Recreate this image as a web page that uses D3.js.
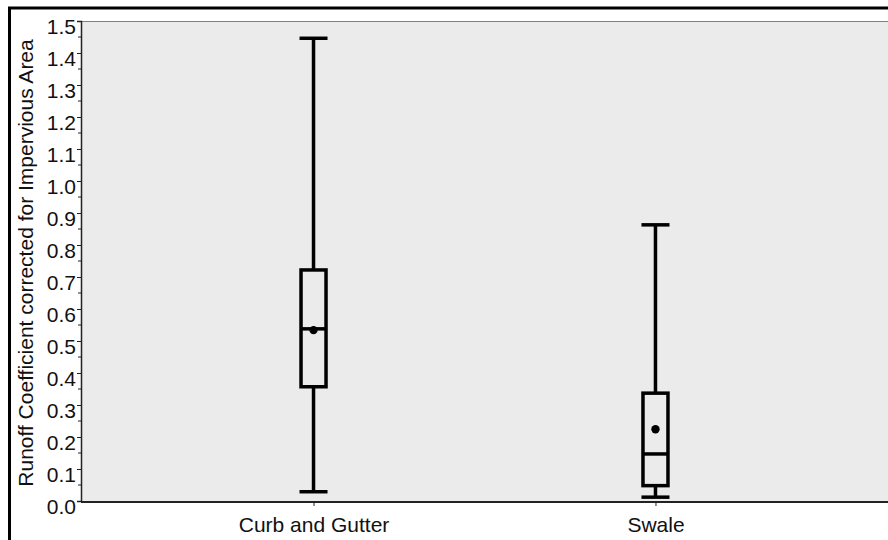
<!DOCTYPE html>
<html>
<head>
<meta charset="utf-8">
<script src="https://cdn.jsdelivr.net/npm/d3@7"></script>
<style>
  body { margin: 0; background: #fff; }
  svg { display: block; font-family: "Liberation Sans", Arial, sans-serif; }
</style>
</head>
<body>
<div id="chart"></div>
<script>
// box plot stats
const groups = ["Curb and Gutter", "Swale"];
const whiskerLow = [0.029, 0.012];
const q1 = [0.357, 0.048];
const median = [0.538, 0.147];
const q3 = [0.722, 0.337];
const whiskerHigh = [1.446, 0.863];
const mean = [0.534, 0.224];
const yTicks = [0.0, 0.1, 0.2, 0.3, 0.4, 0.5, 0.6, 0.7, 0.8, 0.9, 1.0, 1.1, 1.2, 1.3, 1.4, 1.5];

const width = 888, height = 540;
const margin = { left: 81, top: 21, right: 0, bottom: 39 };
const fontSize = 21;

const svg = d3.select("#chart").append("svg")
  .attr("width", width)
  .attr("height", height);

// outer frame (runs off the right and bottom edges)
svg.append("rect")
  .attr("x", 9.5).attr("y", 8)
  .attr("width", width + 20).attr("height", height + 20)
  .attr("fill", "none")
  .attr("stroke", "#000")
  .attr("stroke-width", 3);

const x = d3.scalePoint()
  .domain(groups)
  .range([margin.left, width])
  .padding(0.68);

const y = d3.scaleLinear()
  .domain([0, 1.5])
  .range([height - margin.bottom, margin.top]);

// plot background
svg.append("rect")
  .attr("x", margin.left).attr("y", margin.top)
  .attr("width", width - margin.left + 10)
  .attr("height", y(0) - margin.top)
  .attr("fill", "#ebebeb");

svg.append("line")
  .attr("x1", margin.left).attr("x2", width)
  .attr("y1", margin.top + 0.5).attr("y2", margin.top + 0.5)
  .attr("stroke", "#808080");

// y axis
const yAxis = svg.append("g")
  .attr("transform", `translate(${margin.left},0)`)
  .call(d3.axisLeft(y).tickValues(yTicks).tickFormat(d3.format(".1f")).tickSize(4).tickPadding(1));
yAxis.select(".domain").attr("stroke", "#222").attr("stroke-width", 1.5);
yAxis.selectAll(".tick line").attr("stroke", "#222");
yAxis.selectAll(".tick text")
  .attr("font-size", fontSize)
  .attr("fill", "#111")
  .attr("dy", "0.6em");

// minor ticks
svg.append("g").selectAll("line")
  .data(yTicks.slice(0, -1))
  .join("line")
  .attr("x1", margin.left - 3).attr("x2", margin.left)
  .attr("y1", d => y(d + 0.05)).attr("y2", d => y(d + 0.05))
  .attr("stroke", "#222");

// x axis
const xAxis = svg.append("g")
  .attr("transform", `translate(0,${y(0) + 1})`)
  .call(d3.axisBottom(x).tickSize(4).tickPadding(11).tickSizeOuter(0));
xAxis.select(".domain").attr("stroke", "#222").attr("stroke-width", 2)
  .attr("d", `M${margin.left},0H${width + 5}`);
xAxis.selectAll(".tick line").attr("stroke", "#222");
xAxis.selectAll(".tick text")
  .attr("font-size", fontSize)
  .attr("fill", "#111");

// y title
svg.append("text")
  .attr("transform", `translate(33,${(y(0) + margin.top) / 2 + 2}) rotate(-90)`)
  .attr("text-anchor", "middle")
  .attr("font-size", fontSize)
  .attr("fill", "#111")
  .text("Runoff Coefficient corrected for Impervious Area");

// boxes
const boxW = 28;
const boxes = svg.append("g")
  .selectAll("g")
  .data(groups)
  .join("g")
  .attr("transform", d => `translate(${x(d)},0)`);

boxes.append("line")
  .attr("y1", (d, i) => y(whiskerLow[i])).attr("y2", (d, i) => y(q1[i]))
  .attr("stroke", "#000").attr("stroke-width", 3.5);
boxes.append("line")
  .attr("y1", (d, i) => y(q3[i])).attr("y2", (d, i) => y(whiskerHigh[i]))
  .attr("stroke", "#000").attr("stroke-width", 3.5);

[whiskerLow, whiskerHigh].forEach(arr => {
  boxes.append("line")
    .attr("x1", -boxW / 2).attr("x2", boxW / 2)
    .attr("y1", (d, i) => y(arr[i])).attr("y2", (d, i) => y(arr[i]))
    .attr("stroke", "#000").attr("stroke-width", 3.5);
});

boxes.append("rect")
  .attr("x", -boxW / 2 + 1.5)
  .attr("width", boxW - 3)
  .attr("y", (d, i) => y(q3[i]))
  .attr("height", (d, i) => y(q1[i]) - y(q3[i]))
  .attr("fill", "none")
  .attr("stroke", "#000").attr("stroke-width", 3.5);

boxes.append("circle")
  .attr("cy", (d, i) => y(mean[i]))
  .attr("r", 4.2)
  .attr("fill", "#000");

boxes.append("line")
  .attr("x1", -boxW / 2 + 1.5).attr("x2", boxW / 2 - 1.5)
  .attr("y1", (d, i) => y(median[i])).attr("y2", (d, i) => y(median[i]))
  .attr("stroke", "#000").attr("stroke-width", 3.5);
</script>
</body>
</html>
